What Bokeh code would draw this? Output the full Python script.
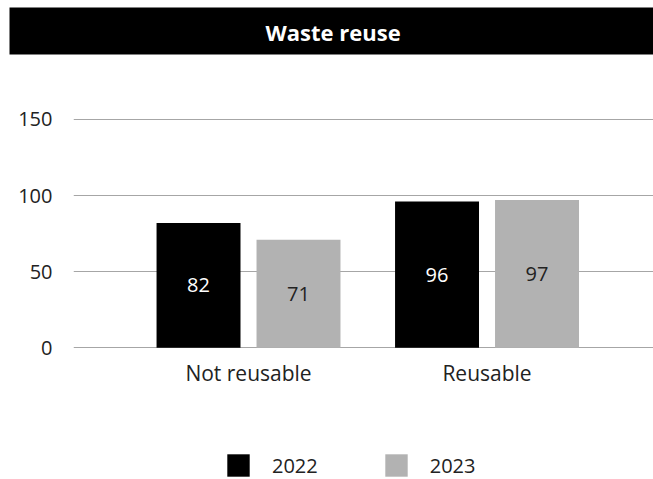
from bokeh.plotting import figure
from bokeh.models import (ColumnDataSource, Range1d, FixedTicker, Legend, LegendItem)
from bokeh.transform import dodge
from bokeh.core.properties import value
from bokeh.embed import file_html
from bokeh.resources import INLINE

title_text = "Waste reuse"
categories = ["Not reusable", "Reusable"]
series_names = ["2022", "2023"]
values_2022 = [82, 96]
values_2023 = [71, 97]
y_ticks = [0, 50, 100, 150]

FONT = "Open Sans"
BLACK = "#000000"
GRAY = "#b2b2b2"
TXT = "#222222"

xs = list(range(len(categories)))
src = ColumnDataSource(dict(
    x=xs,
    v2022=values_2022,
    v2023=values_2023,
    h2022=[v / 2 for v in values_2022],
    h2023=[v / 2 for v in values_2023],
    t2022=[str(v) for v in values_2022],
    t2023=[str(v) for v in values_2023],
))

p = figure(width=653, height=479, output_backend="svg", toolbar_location=None,
           x_range=Range1d(-0.7338, 1.698), y_range=Range1d(-86.46, 189.3),
           min_border_left=73, min_border_right=0, min_border_top=58,
           min_border_bottom=0,
           outline_line_color=None, background_fill_color="white")

p.title.text = title_text
p.title.align = "left"
p.title.offset = -64
p.title.text_color = "white"
p.title.text_font = FONT
p.title.text_font_size = "22px"
p.title.text_font_style = "bold"
p.title.background_fill_color = BLACK
p.title.padding = dict(left=256, right=600, top=9, bottom=8)
p.title.standoff = 10

off = 0.2096
bw = 0.352
r1 = p.vbar(x=dodge("x", -off, range=p.x_range), top="v2022", width=bw, source=src,
            fill_color=BLACK, line_color=None)
r2 = p.vbar(x=dodge("x", off, range=p.x_range), top="v2023", width=bw, source=src,
            fill_color=GRAY, line_color=None)

p.text(x=dodge("x", -off, range=p.x_range), y="h2022", text="t2022", source=src,
       text_align="center", text_baseline="middle", text_color="white",
       text_font=value(FONT), text_font_size="20px")
p.text(x=dodge("x", off, range=p.x_range), y="h2023", text="t2023", source=src,
       text_align="center", text_baseline="middle", text_color=TXT,
       text_font=value(FONT), text_font_size="20px")

# axes
p.xaxis.fixed_location = 0
p.xaxis.ticker = FixedTicker(ticks=xs)
p.xaxis.major_label_overrides = {i: c for i, c in enumerate(categories)}
p.xaxis.axis_line_color = None
p.xaxis.major_tick_line_color = None
p.xaxis.minor_tick_line_color = None
p.xaxis.major_label_text_font = FONT
p.xaxis.major_label_text_font_size = "21px"
p.xaxis.major_label_text_color = TXT
p.xaxis.major_label_standoff = 5

p.yaxis.ticker = FixedTicker(ticks=y_ticks)
p.yaxis.axis_line_color = None
p.yaxis.major_tick_line_color = None
p.yaxis.minor_tick_line_color = None
p.yaxis.major_label_text_font = FONT
p.yaxis.major_label_text_font_size = "20px"
p.yaxis.major_label_text_color = TXT
p.yaxis.major_label_standoff = 15

p.xgrid.visible = False
p.ygrid.ticker = FixedTicker(ticks=y_ticks)
p.ygrid.grid_line_color = "#a6a6a6"
p.ygrid.grid_line_width = 1

legend = Legend(items=[LegendItem(label=series_names[0], renderers=[r1]),
                       LegendItem(label=series_names[1], renderers=[r2])],
                orientation="horizontal", location=(151, 0),
                glyph_width=28, glyph_height=28, label_standoff=20, spacing=64,
                label_text_font=FONT, label_text_font_size="20px",
                label_text_color=TXT, border_line_color=None,
                background_fill_alpha=0, padding=0, margin=0)
p.add_layout(legend, "center")

open("out.html", "w").write(file_html(p, INLINE))
